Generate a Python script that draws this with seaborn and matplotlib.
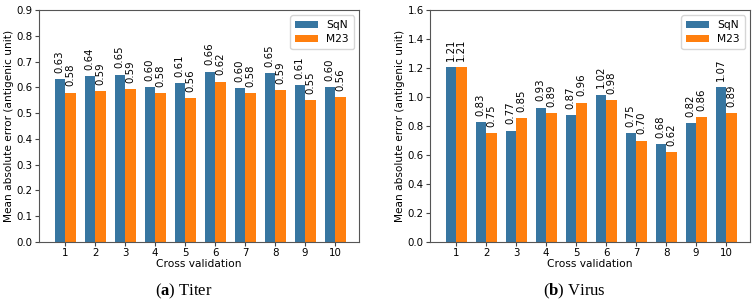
import pandas as pd
import matplotlib.pyplot as plt
import seaborn as sns

# Data
cv_folds = ["1", "2", "3", "4", "5", "6", "7", "8", "9", "10"]
titer_sqn = [0.632, 0.643, 0.649, 0.600, 0.615, 0.661, 0.597, 0.654, 0.609, 0.602]
titer_m23 = [0.580, 0.586, 0.593, 0.579, 0.557, 0.622, 0.577, 0.589, 0.550, 0.563]
virus_sqn = [1.208, 0.826, 0.768, 0.926, 0.873, 1.017, 0.753, 0.676, 0.821, 1.066]
virus_m23 = [1.206, 0.751, 0.852, 0.887, 0.961, 0.976, 0.700, 0.620, 0.859, 0.887]

models = ["SqN", "M23"]
colors = ["#3776a1", "#ff7f0e"]

plt.rcParams["mathtext.fontset"] = "custom"
plt.rcParams["mathtext.rm"] = "Liberation Serif"
plt.rcParams["mathtext.bf"] = "Liberation Serif:bold"


def long_df(sqn, m23):
    return pd.DataFrame(
        {
            "cv": cv_folds * 2,
            "model": ["SqN"] * len(sqn) + ["M23"] * len(m23),
            "mae": list(sqn) + list(m23),
        }
    )


fig = plt.figure(figsize=(7.55, 3.04), dpi=100)
ax1 = fig.add_axes([0.0517, 0.204, 0.4238, 0.763])
ax2 = fig.add_axes([0.5695, 0.204, 0.4239, 0.763])

panels = [
    (ax1, titer_sqn, titer_m23, 0.9, 0.1, "a", "Titer", 0.244),
    (ax2, virus_sqn, virus_m23, 1.6, 0.2, "b", "Virus", 0.761),
]

for ax, sqn, m23, ymax, step, letter, name, cx in panels:
    sns.barplot(
        data=long_df(sqn, m23),
        x="cv",
        y="mae",
        hue="model",
        hue_order=models,
        palette=colors,
        saturation=1,
        width=0.7,
        ax=ax,
    )
    for cont in ax.containers:
        ax.bar_label(cont, fmt="%.2f", rotation=90, padding=4.5, fontsize=7.3)
    ax.set_xlim(-0.87, 9.8)
    ax.set_ylim(0, ymax)
    ticks = [round(i * step, 1) for i in range(int(round(ymax / step)) + 1)]
    ax.set_yticks(ticks)
    ax.set_yticklabels([f"{t:.1f}" for t in ticks])
    ax.tick_params(labelsize=7.4, length=3, pad=1.5, color="#444444")
    ax.set_xlabel("Cross validation", fontsize=7.7, labelpad=0.5)
    ax.set_ylabel("Mean absolute error (antigenic unit)", fontsize=7.6, labelpad=2)
    for sp in ax.spines.values():
        sp.set_color("#555555")
        sp.set_linewidth(0.8)
    ax.legend(
        title=None,
        loc="upper right",
        fontsize=7.7,
        handlelength=2.1,
        handleheight=0.65,
        borderpad=0.45,
        labelspacing=0.4,
        handletextpad=0.8,
    )
    fig.text(
        cx,
        0.04,
        "(" + r"$\mathbf{" + letter + "}$" + ") " + name,
        family="Liberation Serif",
        fontsize=12,
        ha="center",
        va="center",
    )

plt.savefig("out.png", dpi=100)
